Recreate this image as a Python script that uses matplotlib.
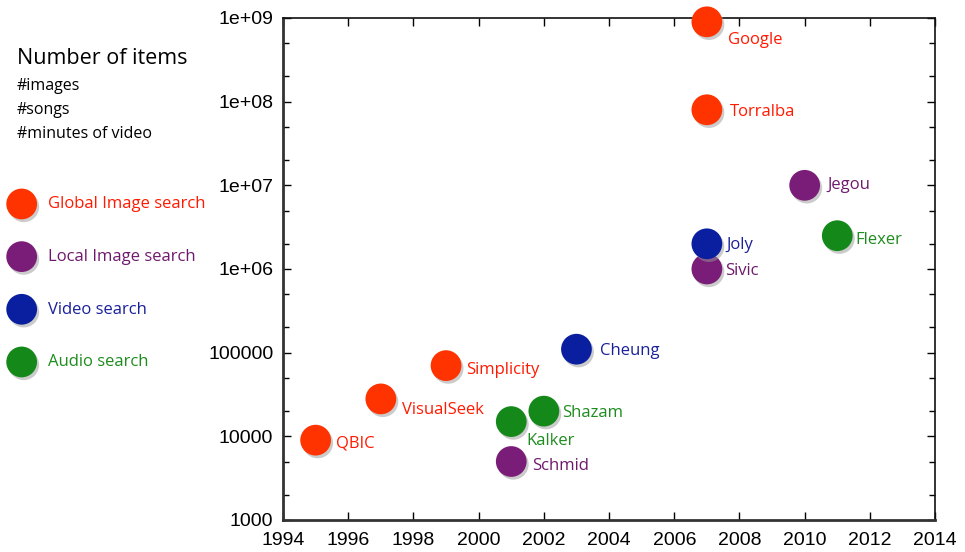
import matplotlib; matplotlib.use("Agg")
import matplotlib.pyplot as plt
import matplotlib.patheffects as pe
from matplotlib.ticker import LogLocator, FixedLocator, NullFormatter

# data
names  = ["QBIC", "VisualSeek", "Simplicity", "Kalker", "Shazam", "Schmid", "Cheung",
          "Google", "Torralba", "Jegou", "Joly", "Sivic", "Flexer"]
years  = [1995, 1997, 1999, 2001, 2002, 2001, 2003, 2007, 2007, 2010, 2007, 2007, 2011]
counts = [9000, 28000, 70000, 15000, 20000, 5000, 110000, 9e8, 8e7, 1e7, 2e6, 1e6, 2.5e6]
kinds  = ["global", "global", "global", "audio", "audio", "local", "video",
          "global", "global", "local", "video", "local", "audio"]
categories = ["global", "local", "video", "audio"]
cat_labels = ["Global Image search", "Local Image search", "Video search", "Audio search"]
x_ticks = list(range(1994, 2015, 2))
y_ticks = [1e3, 1e4, 1e5, 1e6, 1e7, 1e8, 1e9]
y_labels = ["1000", "10000", "100000", "1e+06", "1e+07", "1e+08", "1e+09"]

marker_col = {"global": "#ff3300", "local": "#7a1d78", "video": "#0a1fa0", "audio": "#14891a"}
text_col   = {"global": "#ff1a00", "local": "#6e1a6c", "video": "#1a209a", "audio": "#1e8c1e"}
# label offsets in pixels (dx right, dy up)
offsets = [(20, -3), (21, -11), (20, -4), (15, -19), (18, -2), (21, -4), (24, -2),
           (21, -18), (23, -2), (23, 0), (20, -1), (18, -2), (18, -4)]

lab_font = ["Open Sans", "DejaVu Sans"]
plt.rcParams["font.family"] = ["Liberation Sans", "DejaVu Sans"]

fig = plt.figure(figsize=(9.65, 5.52), dpi=100)
ax = fig.add_axes([0.2933, 0.058, 0.6757, 0.9094])
ax.set_yscale("log")
ax.set_xlim(1994, 2014); ax.set_ylim(1e3, 1e9)

shadow = [pe.SimplePatchShadow(offset=(1.5, -2), shadow_rgbFace="#999999", alpha=0.5), pe.Normal()]
handles = []
for c in categories:
    xs = [y for y, k in zip(years, kinds) if k == c]
    ys = [v for v, k in zip(counts, kinds) if k == c]
    h = ax.scatter(xs, ys, s=490, color=marker_col[c], edgecolors="none",
                   clip_on=False, zorder=3, path_effects=shadow)
    handles.append(h)

for n, x, y, k, (dx, dy) in zip(names, years, counts, kinds, offsets):
    ax.annotate(n, (x, y), xytext=(dx, dy), textcoords="offset pixels", ha="left", va="center",
                fontsize=12, color=text_col[k], family=lab_font, zorder=4)

ax.set_xticks(x_ticks)
ax.set_xticklabels([str(t) for t in x_ticks], fontsize=14)
ax.yaxis.set_major_locator(FixedLocator(y_ticks))
ax.set_yticklabels(y_labels, fontsize=14)
ax.yaxis.set_minor_locator(LogLocator(base=10, subs=(2, 5)))
ax.yaxis.set_minor_formatter(NullFormatter())
ax.tick_params(which="both", direction="in", top=True, right=True)
ax.tick_params(axis="x", pad=9)
ax.tick_params(axis="y", pad=7)
ax.tick_params(which="major", length=6, width=1)
ax.tick_params(which="minor", length=4, width=1)
for s in ["left", "bottom"]:
    ax.spines[s].set_linewidth(2); ax.spines[s].set_color("#333333")
for s in ["top", "right"]:
    ax.spines[s].set_linewidth(1.2); ax.spines[s].set_color("#111111")

fig.text(17/965, 1-58/552, "Number of items", fontsize=15.5, family=lab_font, va="center")
for i, t in enumerate(["#images", "#songs", "#minutes of video"]):
    fig.text(17/965, 1-(86+24*i)/552, t, fontsize=11.5, family=lab_font, va="center")

leg = fig.legend(handles, cat_labels, loc="upper left", bbox_to_anchor=(0.0, 1-188/552),
                 frameon=False, labelspacing=2.2, handletextpad=0.8,
                 borderpad=0, handlelength=1.6, scatterpoints=1,
                 prop={"family": lab_font, "size": 12})
for t, c in zip(leg.get_texts(), categories):
    t.set_color(text_col[c])

fig.savefig("out.png", dpi=100)
